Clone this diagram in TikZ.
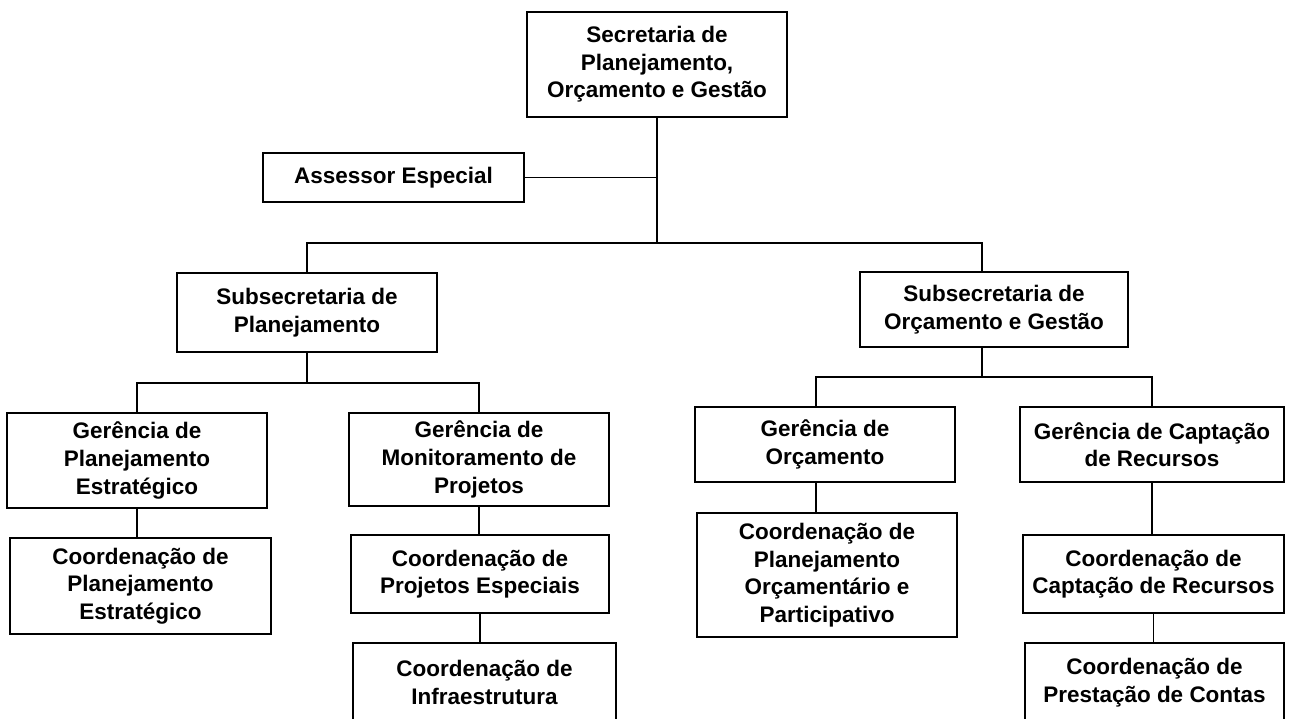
\documentclass[tikz,border=0pt]{standalone}
\usepackage{fontspec}
\setmainfont{Liberation Sans}
\usetikzlibrary{calc}
\newlength{\pxu}
\setlength{\pxu}{0.02cm}
\tikzset{
  orgbox/.style = {draw, line width = 1.1pt, align = center, inner sep = 0pt,
                   font = \fontsize{12.8}{15.7}\selectfont\bfseries},
  link/.style = {line width = 0.6pt}
}

\begin{document}
\begin{tikzpicture}[x = 0.02cm, y = -0.02cm]

\useasboundingbox (0,0) rectangle (1291,718);
\clip (0,0) rectangle (1291,718);

% top level
\node[orgbox, minimum width = 260\pxu, minimum height = 105\pxu] (sec) at (657, 64.5)
  {Secretaria de\\Planejamento,\\Orçamento e Gestão};
\node[orgbox, minimum width = 261\pxu, minimum height = 49\pxu] (assessor) at (393.5, 177.5)
  {Assessor Especial};

% subsecretarias
\node[orgbox, minimum width = 260\pxu, minimum height = 79\pxu] (subplan) at (307, 312.5)
  {Subsecretaria de\\Planejamento};
\node[orgbox, minimum width = 268\pxu, minimum height = 75\pxu] (suborc) at (994, 309.5)
  {Subsecretaria de\\Orçamento e Gestão};

% gerencias
\node[orgbox, minimum width = 260\pxu, minimum height = 95\pxu] (gerpe) at (137, 460.5)
  {Gerência de\\Planejamento\\Estratégico};
\node[orgbox, minimum width = 260\pxu, minimum height = 93\pxu] (germp) at (479, 459.5)
  {Gerência de\\Monitoramento de\\Projetos};
\node[orgbox, minimum width = 260\pxu, minimum height = 75\pxu] (gerorc) at (825, 444.5)
  {Gerência de\\Orçamento};
\node[orgbox, minimum width = 264\pxu, minimum height = 75\pxu] (gercap) at (1152, 444.5)
  {Gerência de Captação\\de Recursos};

% coordenacoes
\node[orgbox, minimum width = 261\pxu, minimum height = 96\pxu] (coorpe) at (140.5, 586)
  {Coordenação de\\Planejamento\\Estratégico};
\node[orgbox, minimum width = 258\pxu, minimum height = 78\pxu] (coorpes) at (480, 574)
  {Coordenação de\\Projetos Especiais};
\node[orgbox, minimum width = 263\pxu, minimum height = 79\pxu] (coorinf) at (484.5, 682.5)
  {Coordenação de\\Infraestrutura};
\node[orgbox, minimum width = 260\pxu, minimum height = 124\pxu] (coorpop) at (827, 575)
  {Coordenação de\\Planejamento\\Orçamentário e\\Participativo};
\node[orgbox, minimum width = 261\pxu, minimum height = 78\pxu] (coorcap) at (1153.5, 574)
  {Coordenação de\\Captação de Recursos};
\node[orgbox, minimum width = 259\pxu, minimum height = 79\pxu] (coorpc) at (1154.5, 682.5)
  {Coordenação de\\Prestação de Contas};

\coordinate (orctop) at ($(suborc.north) + (-12, 0)$);
\coordinate (orcbot) at ($(suborc.south) + (-12, 0)$);
\coordinate (gotop) at ($(gerorc.north) + (-9, 0)$);
\coordinate (gobot) at ($(gerorc.south) + (-9, 0)$);
\coordinate (busa) at (sec.south |- 0, 243);
\coordinate (busb) at (subplan.south |- 0, 383);
\coordinate (busc) at (orcbot |- 0, 377);

\draw[link] (sec.south) -- (busa);
\draw[link] (assessor.east) -- (assessor.east -| sec.south);
\draw[link] (subplan.north) |- (busa) -| (orctop);

\draw[link] (subplan.south) -- (busb);
\draw[link] (gerpe.north) |- (busb) -| (germp.north);
\draw[link] (orcbot) -- (busc);
\draw[link] (gotop) |- (busc) -| (gercap.north);

\draw[link] (gerpe.south) -- (gerpe.south |- coorpe.north);
\draw[link] (germp.south) -- (germp.south |- coorpes.north);
\draw[link] (coorpes.south) -- (coorpes.south |- coorinf.north);
\draw[link] (gobot) -- (gobot |- coorpop.north);
\draw[link] (gercap.south) -- (gercap.south |- coorcap.north);
\draw[link] (coorcap.south) -- (coorcap.south |- coorpc.north);

\end{tikzpicture}
\end{document}
